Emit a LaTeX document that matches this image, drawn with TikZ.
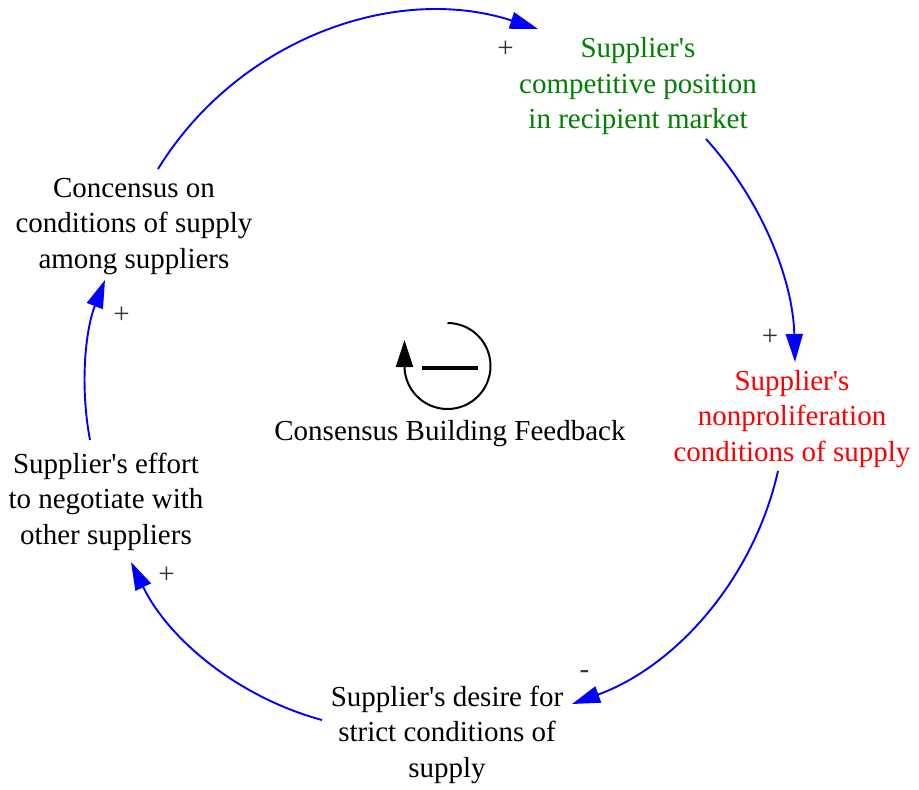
\documentclass[tikz,border=0pt]{standalone}
\usepackage{fontspec}
\setmainfont{Liberation Serif}
\usetikzlibrary{arrows.meta}
\definecolor{linkblue}{RGB}{0,0,255}
\definecolor{vargreen}{RGB}{0,128,0}
\definecolor{varred}{RGB}{255,0,0}
\definecolor{signgray}{RGB}{51,51,51}
\newcommand{\apos}{\textquotesingle}
\tikzset{
  var/.style={align=center, anchor=base, inner sep=0pt,
    font=\fontsize{29}{35.3}\selectfont},
  link/.style={draw=linkblue, line width=1.9pt,
    -{Triangle[length=28pt,width=17pt]}, fill=none},
  polarity/.style={inner sep=0pt, text=signgray,
    font=\fontsize{29}{35.3}\selectfont},
  loopline/.style={line width=2pt, black},
}
\begin{document}
\begin{tikzpicture}[x=1pt, y=-1pt]
  \useasboundingbox (0,0) rectangle (919,790);

  % variables (anchored on the baseline of their last line)
  \node[var, text=vargreen] (position) at (638,128.3)
    {Supplier\apos s\\competitive position\\in recipient market};
  \node[var, text=varred] (conditions) at (792,461)
    {Supplier\apos s\\nonproliferation\\conditions of supply};
  \node[var] (desire) at (447,777)
    {Supplier\apos s desire for\\strict conditions of\\supply};
  \node[var] (effort) at (106,544)
    {Supplier\apos s effort\\to negotiate with\\other suppliers};
  \node[var] (concensus) at (134,268)
    {Concensus on\\conditions of supply\\among suppliers};
  \node[var] (loopname) at (450,440) {Consensus Building Feedback};

  % end points of the causal links
  \coordinate (concensus-out) at (158,169);
  \coordinate (position-in)   at (538,29);
  \coordinate (position-out)  at (706,139);
  \coordinate (conditions-in) at (795,362);
  \coordinate (conditions-out) at (778,471);
  \coordinate (desire-in)     at (572,704);
  \coordinate (desire-out)    at (322,720);
  \coordinate (effort-in)     at (131,562);
  \coordinate (effort-out)    at (90,440);
  \coordinate (concensus-in)  at (105,280);

  % causal links
  \draw[link] (concensus-out) .. controls (237.2,40.2) and (394.1,-17.5) .. (position-in);
  \draw[link] (position-out) .. controls (761.5,200.3) and (793,279.3) .. (conditions-in);
  \draw[link] (conditions-out) .. controls (753.8,578.7) and (675.8,666.4) .. (desire-in);
  \draw[link] (desire-out) .. controls (238.5,697.3) and (168.9,639.8) .. (effort-in);
  \draw[link] (effort-out) .. controls (79.9,386.4) and (85.1,330.7) .. (concensus-in);

  % link polarities
  \node[polarity] (p1) at (505.5,49.5) {+};
  \node[polarity] (p2) at (770,337) {+};
  \node[polarity] (p3) at (584.5,675) {-};
  \node[polarity] (p4) at (166.5,575.5) {+};
  \node[polarity] (p5) at (121.5,315.5) {+};

  % loop symbol: balancing loop
  \coordinate (loopcenter) at (447.5,366);
  \draw[loopline, -{Triangle[length=27pt,width=17pt]}]
    (447.5,323) arc[start angle=-90, end angle=180, radius=43] -- ++(0,-26);
  \draw[line width=4.5pt] (422,368) -- (478,368);
\end{tikzpicture}
\end{document}
